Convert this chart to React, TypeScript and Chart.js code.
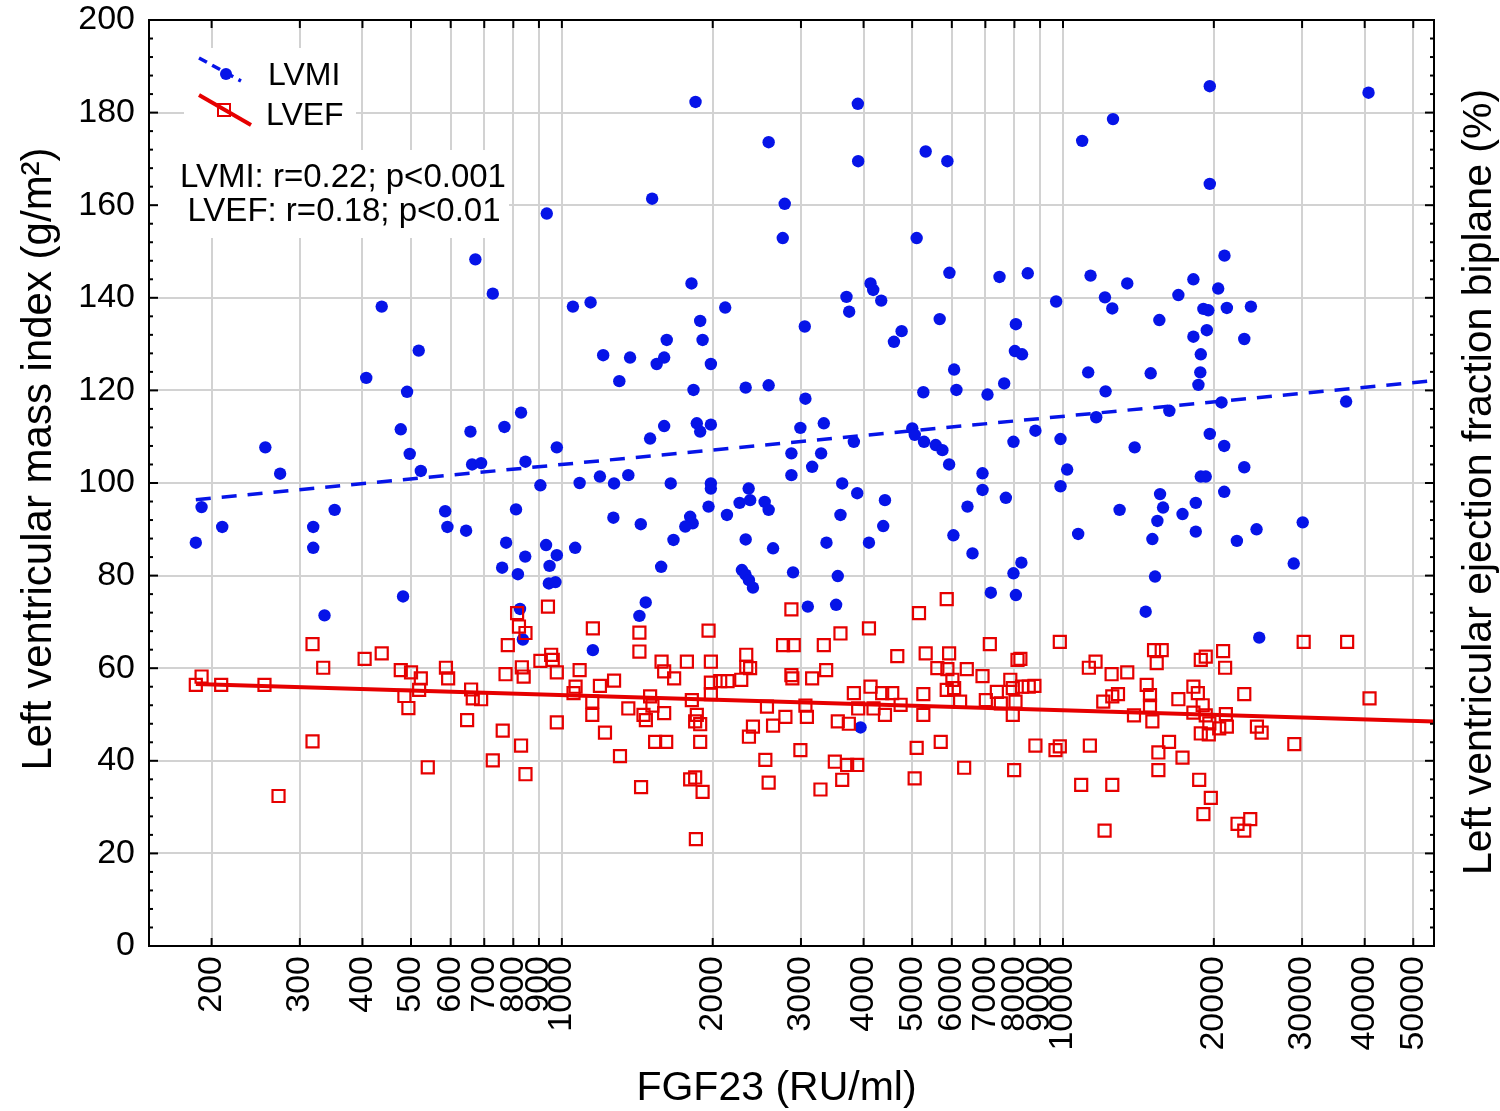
import { useEffect, useRef } from "react"
import { Chart, registerables } from "chart.js"

Chart.register(...registerables)

const FONT = '"Liberation Sans", Arial, Helvetica, sans-serif'
const BLUE = "#0614e8"
const RED = "#e60000"

// x tick values (log axis, FGF23 RU/ml)
const xTickValues = [
  200, 300, 400, 500, 600, 700, 800, 900, 1000, 2000, 3000, 4000, 5000, 6000, 7000, 8000, 9000,
  10000, 20000, 30000, 40000, 50000,
]
const yMin = 0
const yMax = 200
const yStep = 20

// LVMI (g/m2) vs FGF23
const lvmiPoints: [number, number][] = [
  [933, 158.2], [672, 148.3], [728, 140.9], [437, 138.1], [1052, 138.1], [1141, 139.0], [518, 128.6],
  [407, 122.7], [491, 119.7], [829, 115.2], [477, 111.6], [657, 111.1], [768, 112.1], [256, 107.7],
  [977, 107.7], [497, 106.3], [274, 102.0], [523, 102.6], [662, 104.0], [690, 104.3], [846, 104.6],
  [906, 99.5], [1085, 100.0], [191, 94.8], [186, 87.1], [210, 90.5], [319, 90.5], [319, 86.0],
  [352, 94.2], [585, 93.9], [591, 90.5], [644, 89.7], [810, 94.3], [774, 87.1], [930, 86.6],
  [977, 84.4], [1063, 86.0], [845, 84.1], [760, 81.7], [817, 80.3], [945, 82.1], [942, 78.3],
  [971, 78.6], [482, 75.5], [336, 71.4], [825, 72.8], [836, 66.2], [1153, 63.9],
  [1848, 182.3], [3896, 181.9], [2586, 173.6], [3902, 169.5], [5321, 171.6], [5879, 169.5],
  [1514, 161.4], [2784, 160.3], [2759, 152.9], [5105, 152.9], [5934, 145.4], [7470, 144.5],
  [1814, 143.1], [2118, 137.9], [3698, 140.2], [3744, 137.0], [4130, 143.1], [4181, 141.7],
  [4338, 139.4], [1888, 135.0], [1909, 130.9], [1619, 130.9], [3053, 133.8], [5675, 135.4],
  [4764, 132.8], [4599, 130.5], [8054, 134.3], [8017, 128.5], [1209, 127.6], [1368, 127.1],
  [1600, 127.1], [1546, 125.7], [1983, 125.7], [1302, 122.0], [1831, 120.1], [2327, 120.6],
  [2586, 121.1], [3062, 118.2], [6064, 124.5], [5264, 119.6], [6128, 120.1], [7069, 119.1],
  [7632, 121.5], [1600, 112.3], [1859, 112.9], [1888, 111.1], [1983, 112.6], [1500, 109.6],
  [2992, 111.9], [3332, 112.9], [2871, 106.4], [3291, 106.4], [3158, 103.5], [2871, 101.7],
  [3825, 108.9], [5003, 111.8], [5061, 110.4], [5281, 108.9], [5572, 108.2], [5746, 107.1],
  [5926, 104.0], [7965, 108.9], [1191, 101.4], [1271, 99.9], [1357, 101.7], [1649, 99.9],
  [1983, 99.9], [1983, 98.8], [3626, 99.9], [3885, 97.8], [4413, 96.3], [6909, 102.1],
  [6909, 98.5], [7691, 96.8], [1267, 92.5], [1437, 91.1], [1670, 87.7], [1803, 92.7],
  [1824, 91.3], [1763, 90.6], [1962, 94.9], [2135, 93.1], [2263, 95.7], [2359, 98.8],
  [2375, 96.3], [2539, 95.9], [2586, 94.2], [2327, 87.8], [2639, 85.9], [3373, 87.1],
  [3597, 93.1], [4100, 87.1], [4378, 90.7], [6448, 94.9], [6044, 88.7], [6598, 84.8],
  [1578, 81.9], [2287, 81.2], [2325, 80.2], [2362, 79.0], [2406, 77.4], [2893, 80.7],
  [3553, 79.9], [7178, 76.3], [7965, 80.5], [8054, 75.8], [1470, 74.2], [1428, 71.3],
  [3096, 73.3], [3526, 73.7], [3945, 47.2],
  [19630, 185.7], [40710, 184.3], [12584, 178.6], [10922, 173.9], [19630, 164.6], [21002, 149.1],
  [8506, 145.3], [11350, 144.8], [13435, 143.1], [18206, 144.0], [20405, 142.0], [16992, 140.6],
  [9690, 139.2], [12127, 140.1], [12542, 137.7], [19063, 137.6], [19500, 137.3], [21232, 137.8],
  [23714, 138.1], [15570, 135.2], [18206, 131.6], [19364, 133.0], [23001, 131.1], [8284, 127.8],
  [18836, 127.8], [18793, 123.9], [18631, 121.2], [11228, 123.9], [14962, 123.7], [12162, 119.8],
  [20716, 117.4], [36728, 117.6], [16303, 115.6], [11649, 114.2], [8810, 111.3], [9886, 109.5],
  [13900, 107.7], [19630, 110.6], [20975, 108.0], [23001, 103.4], [10193, 102.9], [9886, 99.3],
  [18836, 101.4], [19270, 101.4], [20975, 98.1], [15620, 97.6], [15837, 94.7], [18408, 95.7],
  [17318, 93.3], [12970, 94.2], [15430, 91.8], [18408, 89.5], [10722, 89.0], [15078, 87.9],
  [22233, 87.5], [24336, 90.0], [30087, 91.5], [8260, 82.8], [28870, 82.6],
  [15265, 79.8], [14622, 72.2], [24640, 66.6],
]

// LVEF biplane (%) vs FGF23
const lvefPoints: [number, number][] = [
  [186, 56.4], [191, 58.2], [209, 56.4], [255, 56.4], [272, 32.4], [318, 65.2], [318, 44.2],
  [334, 60.1], [404, 62.0], [437, 63.2], [477, 59.6], [500, 59.1], [523, 57.8], [485, 54.0],
  [519, 55.3], [494, 51.4], [540, 38.6], [587, 60.1], [593, 57.8], [659, 55.4], [664, 53.5],
  [690, 53.3], [647, 48.8], [780, 65.0], [772, 58.7], [762, 46.5], [728, 40.1], [814, 71.9],
  [821, 69.0], [846, 67.6], [832, 60.2], [839, 58.2], [829, 43.3], [846, 37.1], [938, 73.3],
  [952, 62.9], [906, 61.6], [959, 61.8], [977, 59.1], [977, 48.3], [1085, 59.6], [1065, 56.0],
  [1055, 54.6], [1153, 68.6],
  [1428, 67.7], [1428, 63.6], [1581, 61.4], [1600, 59.3], [1675, 57.8], [1776, 61.4], [1962, 68.1],
  [1983, 61.4], [1983, 56.9], [1983, 54.4], [2070, 57.2], [2141, 57.2], [2280, 57.5], [2333, 62.9],
  [2333, 60.3], [2375, 60.0], [1191, 56.2], [1271, 57.3], [1150, 52.8], [1150, 49.9], [1357, 51.3],
  [1500, 53.9], [1516, 51.9], [1455, 49.9], [1471, 48.8], [1600, 50.3], [1817, 53.1], [1859, 49.9],
  [1888, 47.9], [1845, 48.5], [1219, 46.1], [1306, 41.0], [1535, 44.1], [1615, 44.1], [1888, 44.1],
  [1439, 34.3], [1803, 36.0], [1845, 36.4], [1909, 33.3], [1851, 23.1], [2871, 72.7], [2763, 65.0],
  [2902, 65.0], [3332, 65.0], [3597, 67.5], [4100, 68.6], [2871, 58.5], [2884, 57.8], [3158, 57.8],
  [3368, 59.6], [2566, 51.7], [2793, 49.5], [2639, 47.6], [2406, 47.4], [2362, 45.2], [3062, 51.9],
  [3083, 49.5], [2992, 42.3], [2547, 40.2], [2586, 35.3], [3281, 33.8], [3505, 39.8], [3709, 39.1],
  [3885, 39.1], [3626, 35.9], [3553, 48.5], [3738, 48.0], [3825, 54.6], [3902, 51.3], [4130, 56.0],
  [4357, 54.6], [4563, 54.6], [4187, 51.3], [4413, 49.9], [4742, 52.1], [4670, 62.6], [5160, 71.9],
  [5861, 74.9], [5321, 63.2], [5926, 63.2], [5614, 60.0], [5879, 59.8], [6427, 59.8], [6909, 58.3],
  [7145, 65.2], [6016, 57.5], [5861, 55.3], [6064, 55.7], [5264, 54.4], [5264, 49.9], [5702, 44.1],
  [5105, 42.8], [5058, 36.2], [6350, 38.5], [6233, 52.8], [7015, 53.1], [7379, 54.9], [7850, 57.5],
  [7940, 55.7], [8114, 61.8], [7940, 49.9], [7990, 38.0], [7516, 52.4],
  [9855, 65.7], [8222, 62.0], [8284, 56.0], [8544, 56.0], [8770, 56.2], [8040, 52.8], [11262, 60.1],
  [11614, 61.4], [12503, 58.7], [13435, 59.1], [12033, 52.8], [12542, 53.9], [12875, 54.4],
  [13857, 49.8], [8810, 43.3], [9661, 42.3], [9855, 43.1], [11314, 43.3], [10872, 34.8],
  [12542, 34.8], [12106, 24.9], [15195, 63.9], [15740, 63.9], [15382, 61.1], [14689, 56.4],
  [14915, 54.2], [14915, 51.9], [15078, 48.5], [16280, 44.1], [15500, 41.8], [15500, 38.0],
  [16992, 53.3], [17318, 40.7], [18698, 35.9], [19724, 32.0], [19063, 28.5], [22301, 26.4],
  [23642, 27.4], [23001, 24.9], [18836, 61.8], [19270, 62.5], [20870, 63.7], [21063, 60.1],
  [18206, 56.0], [18582, 54.6], [19000, 52.0], [18206, 50.4], [19270, 49.8], [19590, 48.1],
  [18836, 45.9], [19540, 45.7], [20500, 47.0], [21135, 50.1], [21232, 47.4], [23001, 54.4],
  [24378, 47.4], [24910, 46.1], [28950, 43.6], [30220, 65.7], [36900, 65.7], [40900, 53.5],
]

// fitted regression lines (end points)
const lvmiTrend: [number, number][] = [[186, 96.4], [55000, 122.1]]
const lvefTrend: [number, number][] = [[186, 56.6], [55000, 48.5]]

const legendLabels = ["LVMI", "LVEF"]
const statsLines = ["LVMI: r=0.22; p<0.001", "LVEF: r=0.18; p<0.01"]
const xTitle = "FGF23 (RU/ml)"
const yTitle = "Left ventricular mass index (g/m\u00b2)"
const y2Title = "Left ventricular ejection fraction biplane (%)"

const toXY = (pts: [number, number][]) => pts.map(([x, y]) => ({ x, y }))

const decorations = {
  id: "decorations",
  beforeDatasetsDraw(chart: any) {
    const { ctx, chartArea: a } = chart
    ctx.save()
    ctx.fillStyle = "#fff"
    // white boxes behind legend and statistics
    ctx.fillRect(a.left + 35, a.top + 28, 172, 104)
    ctx.fillRect(a.left + 9, a.top + 130, 351, 88)
    ctx.restore()
  },
  afterDraw(chart: any) {
    const { ctx, chartArea: a } = chart
    const xs = chart.scales.x
    const ys = chart.scales.y
    const line = (x1: number, y1: number, x2: number, y2: number) => {
      ctx.beginPath()
      ctx.moveTo(x1, y1)
      ctx.lineTo(x2, y2)
      ctx.stroke()
    }
    ctx.save()
    ctx.strokeStyle = "#000"
    ctx.lineWidth = 2
    for (const v of xTickValues) {
      const px = xs.getPixelForValue(v)
      line(px, a.bottom, px, a.bottom - 8)
      line(px, a.top, px, a.top + 8)
    }
    for (let v = yMin; v <= yMax; v += 4) {
      const py = ys.getPixelForValue(v)
      const len = v % yStep === 0 ? 9 : 4
      line(a.left, py, a.left + len, py)
      line(a.right, py, a.right - len, py)
    }
    ctx.strokeRect(a.left, a.top, a.right - a.left, a.bottom - a.top)

    // legend
    const lx = a.left
    const ly = a.top
    ctx.strokeStyle = BLUE
    ctx.lineWidth = 3.5
    ctx.setLineDash([9, 6])
    line(lx + 50, ly + 38, lx + 92, ly + 61)
    ctx.setLineDash([])
    ctx.fillStyle = BLUE
    ctx.beginPath()
    ctx.arc(lx + 77, ly + 54, 6, 0, Math.PI * 2)
    ctx.fill()
    ctx.strokeStyle = RED
    ctx.lineWidth = 4
    line(lx + 50, ly + 75, lx + 102, ly + 105)
    ctx.lineWidth = 2
    ctx.strokeRect(lx + 69, ly + 84, 12, 12)

    ctx.fillStyle = "#000"
    ctx.textBaseline = "alphabetic"
    ctx.textAlign = "left"
    ctx.font = `32px ${FONT}`
    ctx.fillText(legendLabels[0], lx + 119, ly + 65)
    ctx.fillText(legendLabels[1], lx + 117, ly + 105)

    ctx.textAlign = "center"
    ctx.font = `33px ${FONT}`
    ctx.fillText(statsLines[0], lx + 194, ly + 167)
    ctx.fillText(statsLines[1], lx + 195, ly + 201)

    // axis titles
    ctx.font = `41px ${FONT}`
    ctx.fillText(xTitle, (a.left + a.right) / 2 - 15, 1100)
    ctx.save()
    ctx.translate(51, 459)
    ctx.rotate(-Math.PI / 2)
    ctx.font = `42px ${FONT}`
    ctx.fillText(yTitle, 0, 0)
    ctx.restore()
    ctx.save()
    ctx.translate(1491, 482)
    ctx.rotate(-Math.PI / 2)
    ctx.fillText(y2Title, 0, 0)
    ctx.restore()
    ctx.restore()
  },
}

export default function App() {
  const chartRef = useRef<HTMLCanvasElement | null>(null)
  const chartInstance = useRef<Chart | null>(null)

  useEffect(() => {
    if (!chartRef.current) return

    if (chartInstance.current) {
      chartInstance.current.destroy()
    }

    const ctx = chartRef.current.getContext("2d")
    if (!ctx) return

    chartInstance.current = new Chart(ctx, {
      type: "scatter",
      data: {
        datasets: [
          {
            label: "LVMI trend",
            data: toXY(lvmiTrend),
            showLine: true,
            borderColor: BLUE,
            borderWidth: 3.5,
            borderDash: [15, 11],
            pointRadius: 0,
            order: 0,
          },
          {
            label: "LVEF trend",
            data: toXY(lvefTrend),
            showLine: true,
            borderColor: RED,
            borderWidth: 4,
            pointRadius: 0,
            order: 1,
          },
          {
            label: "LVMI",
            data: toXY(lvmiPoints),
            pointStyle: "circle",
            pointRadius: 6.2,
            backgroundColor: BLUE,
            borderColor: BLUE,
            borderWidth: 0,
            order: 3,
          },
          {
            label: "LVEF",
            data: toXY(lvefPoints),
            pointStyle: "rect",
            pointRadius: 8.5,
            backgroundColor: "rgba(0,0,0,0)",
            borderColor: RED,
            borderWidth: 2.2,
            order: 2,
          },
        ],
      } as any,
      options: {
        animation: false,
        responsive: true,
        maintainAspectRatio: false,
        events: [],
        layout: { padding: { top: 20, right: 66, left: 0, bottom: 0 } },
        plugins: {
          legend: { display: false },
          tooltip: { enabled: false },
        },
        scales: {
          x: {
            type: "logarithmic",
            min: 150,
            max: 55000,
            afterBuildTicks: (scale: any) => {
              scale.ticks = xTickValues.map((value) => ({ value }))
            },
            afterFit: (scale: any) => {
              scale.height = 165
              scale.paddingLeft = 0
              scale.paddingRight = 0
            },
            ticks: {
              autoSkip: false,
              minRotation: 90,
              maxRotation: 90,
              padding: 10,
              color: "#000",
              font: { family: FONT, size: 34 },
              callback: (value: any) => String(value),
            },
            grid: { color: "#d2d2d2", lineWidth: 2, drawTicks: false },
            border: { display: false },
          },
          y: {
            type: "linear",
            min: yMin,
            max: yMax,
            afterFit: (scale: any) => {
              scale.width = 149
              scale.paddingTop = 0
              scale.paddingBottom = 0
            },
            ticks: {
              stepSize: yStep,
              padding: 14,
              color: "#000",
              font: { family: FONT, size: 34 },
            },
            grid: { color: "#d2d2d2", lineWidth: 2, drawTicks: false },
            border: { display: false },
          },
        },
      } as any,
      plugins: [decorations],
    })

    return () => {
      if (chartInstance.current) {
        chartInstance.current.destroy()
        chartInstance.current = null
      }
    }
  }, [])

  return (
    <div style={{ position: "absolute", left: 0, top: 0, width: 1500, height: 1111, background: "#fff" }}>
      <canvas ref={chartRef} />
    </div>
  )
}
